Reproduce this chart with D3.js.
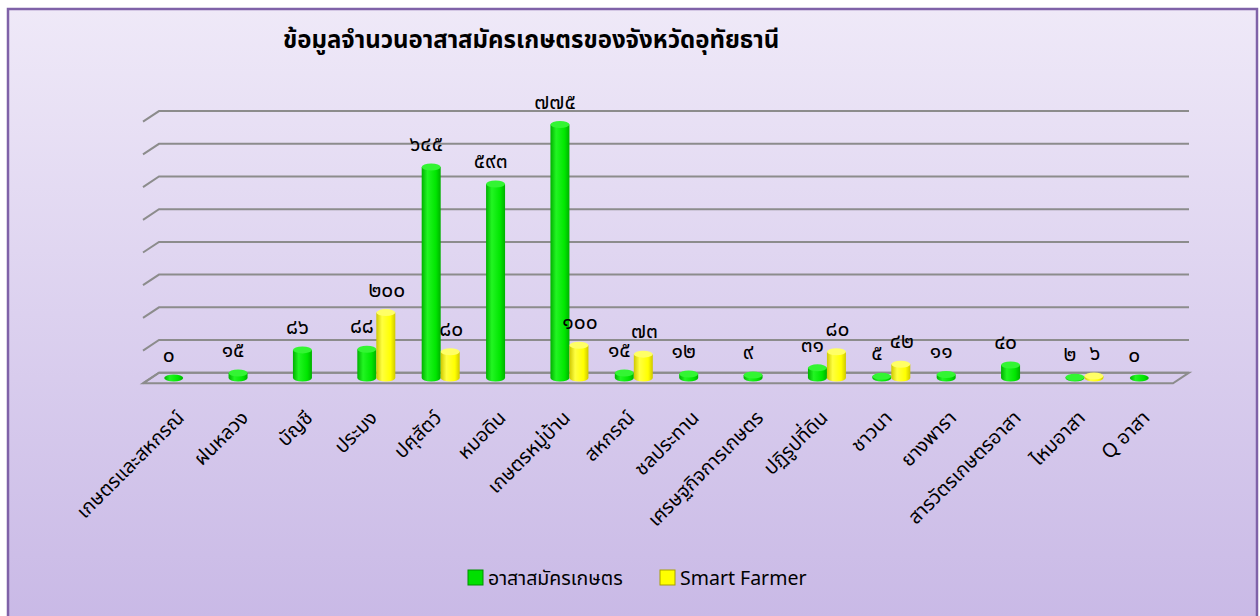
<!DOCTYPE html>
<html>
<head>
<meta charset="utf-8">
<script src="https://cdn.jsdelivr.net/npm/d3@7"></script>
<style>
  body { margin: 0; background: #fff; }
  text { font-family: "Noto Sans Thai", "Tahoma", "Noto Sans", sans-serif; }
</style>
</head>
<body>
<script>
// data
var categories = ["เกษตรและสหกรณ์", "ฝนหลวง", "บัญชี", "ประมง", "ปศุสัตว์", "หมอดิน",
  "เกษตรหมู่บ้าน", "สหกรณ์", "ชลประทาน", "เศรษฐกิจการเกษตร", "ปฏิรูปที่ดิน", "ชาวนา",
  "ยางพารา", "สารวัตรเกษตรอาสา", "ไหมอาสา", "Q อาสา"];
var volunteers = [0, 15, 86, 88, 645, 593, 775, 15, 12, 9, 31, 5, 11, 40, 2, 0];
var smartFarmer = [null, null, null, 200, 80, null, 100, 73, null, null, 80, 42, null, null, 6, null];
var seriesNames = ["อาสาสมัครเกษตร", "Smart Farmer"];
var yTicks = [0, 100, 200, 300, 400, 500, 600, 700, 800];
var title = "ข้อมูลจำนวนอาสาสมัครเกษตรของจังหวัดอุทัยธานี";

var thaiDigits = "๐๑๒๓๔๕๖๗๘๙";
function toThai(n) {
  return String(n).replace(/[0-9]/g, function (d) { return thaiDigits[+d]; });
}

var width = 1260, height = 616;
var svg = d3.select("body").append("svg")
  .attr("width", width)
  .attr("height", height)
  .style("display", "block");

var defs = svg.append("defs");
var bg = defs.append("linearGradient").attr("id", "bg")
  .attr("x1", 0).attr("y1", 0).attr("x2", 0).attr("y2", 1);
bg.append("stop").attr("offset", "0%").attr("stop-color", "#efe9f8");
bg.append("stop").attr("offset", "100%").attr("stop-color", "#c9b9e6");

function cylGrad(id, dark, mid, light) {
  var g = defs.append("linearGradient").attr("id", id)
    .attr("x1", 0).attr("y1", 0).attr("x2", 1).attr("y2", 0);
  g.append("stop").attr("offset", "0%").attr("stop-color", dark);
  g.append("stop").attr("offset", "30%").attr("stop-color", light);
  g.append("stop").attr("offset", "75%").attr("stop-color", mid);
  g.append("stop").attr("offset", "100%").attr("stop-color", dark);
}
cylGrad("gGreen", "#00b000", "#00e600", "#22f522");
cylGrad("gYellow", "#cfc800", "#ffff00", "#ffff40");

// background frame
svg.append("rect")
  .attr("x", 8).attr("y", 9)
  .attr("width", 1249).attr("height", 610)
  .attr("fill", "url(#bg)")
  .attr("stroke", "#7f62a8")
  .attr("stroke-width", 2.5);

// scales
var baseFront = 383.3, depthX = 16, depthY = -10.6;
var step = 32.7;
var x = d3.scaleBand().domain(categories).range([151, 1181]);
var yBack = d3.scaleLinear().domain([0, 800]).range([baseFront + depthY, baseFront + depthY - 8 * step]);
var yMid = d3.scaleLinear().domain([0, 800]).range([baseFront + depthY / 2, baseFront + depthY / 2 - 8 * step]);

var left = x.range()[0] - depthX / 2, right = x.range()[1] - depthX / 2;

// gridlines on back wall + side
var grid = svg.append("g").attr("fill", "none").attr("stroke", "#8c8c8c").attr("stroke-width", 2);
yTicks.forEach(function (t) {
  var yb = yBack(t);
  grid.append("path")
    .attr("d", "M" + left + "," + (yb - depthY) + "L" + (left + depthX) + "," + yb + "L" + (right + depthX) + "," + yb);
});
// floor
grid.append("path")
  .attr("d", "M" + left + "," + baseFront + "L" + right + "," + baseFront +
    "L" + (right + depthX) + "," + (baseFront + depthY) + "L" + (left + depthX) + "," + (baseFront + depthY) + "Z");

// cylinders
var bw = 19, rx = bw / 2, ry = 3.5;
var series = [
  {values: volunteers, grad: "url(#gGreen)", top: "#33f533", off: -9.5, lab: -5},
  {values: smartFarmer, grad: "url(#gYellow)", top: "#ffff66", off: 9.5, lab: 1}
];
var bars = svg.append("g");
var labels = svg.append("g");
series.forEach(function (s) {
  s.values.forEach(function (v, i) {
    if (v === null) return;
    var cx = x(categories[i]) + x.bandwidth() / 2 + s.off;
    var yb = yMid(0), yt = yMid(v);
    if (yb - yt > 0.5) {
      bars.append("path")
        .attr("d", "M" + (cx - rx) + "," + yt + "L" + (cx - rx) + "," + yb +
          "A" + rx + "," + ry + " 0 0 0 " + (cx + rx) + "," + yb +
          "L" + (cx + rx) + "," + yt + "Z")
        .attr("fill", s.grad);
    }
    bars.append("ellipse")
      .attr("cx", cx).attr("cy", yt)
      .attr("rx", rx).attr("ry", ry)
      .attr("fill", yb - yt > 0.5 ? s.top : s.grad);
    labels.append("text")
      .attr("x", cx + s.lab)
      .attr("y", yt - 16)
      .attr("text-anchor", "middle")
      .attr("font-size", 21)
      .attr("fill", "#000")
      .text(toThai(v));
  });
});

// category labels
svg.append("g").selectAll("text")
  .data(categories)
  .enter().append("text")
  .attr("transform", function (d) {
    return "translate(" + (x(d) + x.bandwidth() / 2 + 2) + ",419) rotate(-45)";
  })
  .attr("text-anchor", "end")
  .attr("font-size", 19.5)
  .attr("fill", "#000")
  .text(function (d) { return d; });

// title
svg.append("text")
  .attr("x", 283).attr("y", 48)
  .attr("font-size", 24)
  .attr("font-weight", "bold")
  .attr("fill", "#000")
  .text(title);

// legend
var legend = svg.append("g").attr("transform", "translate(468,570)");
var legItems = [
  {name: seriesNames[0], fill: "#00e000", stroke: "#009000", x: 0},
  {name: seriesNames[1], fill: "#ffff00", stroke: "#a8a000", x: 192}
];
legItems.forEach(function (d) {
  legend.append("rect")
    .attr("x", d.x).attr("y", 0)
    .attr("width", 15).attr("height", 15)
    .attr("fill", d.fill)
    .attr("stroke", d.stroke);
  legend.append("text")
    .attr("x", d.x + 20).attr("y", 15)
    .attr("font-size", 19.5)
    .attr("fill", "#000")
    .text(d.name);
});
</script>
</body>
</html>
